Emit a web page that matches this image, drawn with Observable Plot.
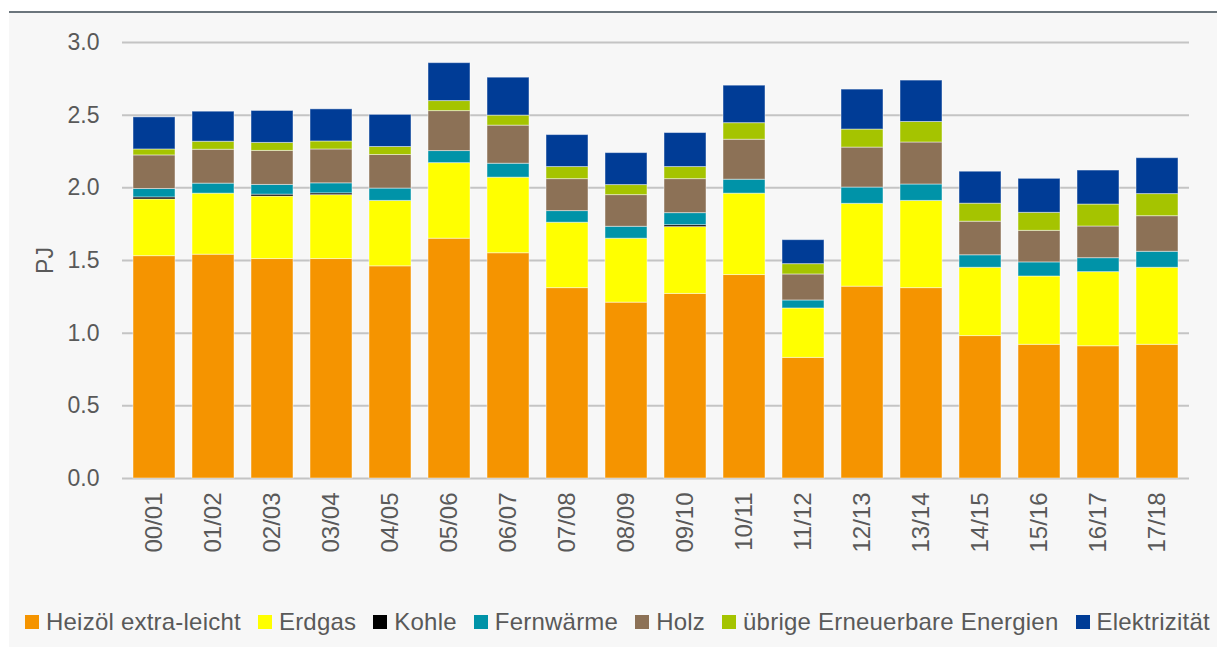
<!DOCTYPE html>
<html>
<head>
<meta charset="utf-8">
<script src="https://cdn.jsdelivr.net/npm/d3@7"></script>
<script src="https://cdn.jsdelivr.net/npm/@observablehq/plot@0.6"></script>
<style>
  html, body { margin: 0; padding: 0; background: #ffffff; }
  #panel {
    position: absolute; left: 9px; top: 11px; width: 1208px; height: 634px;
    background: #f7f7f7; border-top: 2px solid #6b757c;
    font-family: "Liberation Sans", Arial, sans-serif;
  }
  #chart { position: absolute; left: 0; top: 0; }
  #legend {
    position: absolute; left: 16px; top: 595px; display: flex; align-items: center;
    font-size: 24px; letter-spacing: 0.22px; color: #595959; white-space: nowrap;
  }
  .item { display: flex; align-items: center; margin-right: 17px; }
  .sw { width: 14px; height: 14px; margin-right: 7px; }
</style>
</head>
<body>
<div id="panel">
  <div id="chart"></div>
  <div id="legend"></div>
</div>
<script>
const years = ["00/01","01/02","02/03","03/04","04/05","05/06","06/07","07/08","08/09","09/10","10/11","11/12","12/13","13/14","14/15","15/16","16/17","17/18"];
const seriesNames = ["Heizöl extra-leicht","Erdgas","Kohle","Fernwärme","Holz","übrige Erneuerbare Energien","Elektrizität"];
const seriesColors = ["#F59400","#FFFF00","#000000","#0093A8","#8C7156","#A5C400","#003C96"];
const heizoel   = [1.53,1.54,1.51,1.51,1.46,1.65,1.55,1.31,1.21,1.27,1.40,0.83,1.32,1.31,0.98,0.92,0.91,0.92];
const erdgas    = [0.39,0.42,0.43,0.44,0.45,0.52,0.52,0.45,0.44,0.46,0.56,0.34,0.57,0.60,0.47,0.47,0.51,0.53];
const kohle     = [0.014,0,0.013,0.012,0,0,0,0,0,0.013,0,0,0,0,0,0,0,0];
const fernwaerme= [0.058,0.069,0.067,0.069,0.085,0.083,0.096,0.080,0.082,0.083,0.096,0.055,0.112,0.113,0.086,0.097,0.096,0.110];
const holz      = [0.231,0.233,0.234,0.233,0.231,0.275,0.262,0.220,0.218,0.234,0.275,0.179,0.275,0.289,0.231,0.217,0.218,0.245];
const uebrige   = [0.041,0.055,0.055,0.055,0.055,0.069,0.069,0.083,0.069,0.083,0.114,0.071,0.124,0.141,0.124,0.124,0.151,0.152];
const elektrizitaet = [0.221,0.207,0.220,0.221,0.221,0.261,0.261,0.220,0.220,0.234,0.258,0.165,0.275,0.285,0.220,0.234,0.234,0.247];
const yTicks = [0,0.5,1.0,1.5,2.0,2.5,3.0];

const seriesValues = [heizoel, erdgas, kohle, fernwaerme, holz, uebrige, elektrizitaet];
const data = seriesNames.flatMap((name, si) => years.map((year, i) => ({year, type: name, value: seriesValues[si][i]})));

const chart = Plot.plot({
  width: 1208,
  height: 580,
  marginLeft: 113,
  marginRight: 28,
  marginTop: 29,
  marginBottom: 115,
  style: {background: "transparent", fontFamily: "'Liberation Sans', Arial, sans-serif", fontSize: "23px", color: "#595959"},
  x: {domain: years, paddingInner: 0.29, paddingOuter: 0.18, label: null},
  y: {domain: [0, 3], label: null},
  color: {domain: seriesNames, range: seriesColors},
  marks: [
    Plot.ruleY(yTicks, {stroke: "#c4c4c4", strokeWidth: 2}),
    Plot.barY(data, {x: "year", y: "value", fill: "type", stroke: "#ffffff", strokeOpacity: 0.45, strokeWidth: 1}),
    Plot.axisX({tickSize: 0, tickRotate: -90, tickPadding: 14, fontSize: 24, label: null}),
    Plot.axisY({ticks: yTicks, tickFormat: d => d.toFixed(1), tickSize: 0, tickPadding: 23, fontSize: 23,
                label: "PJ", labelAnchor: "center", labelArrow: "none", labelOffset: 86})
  ]
});
document.getElementById("chart").appendChild(chart);

const legend = document.getElementById("legend");
seriesNames.forEach((name, i) => {
  const item = document.createElement("div");
  item.className = "item";
  const sw = document.createElement("div");
  sw.className = "sw";
  sw.style.background = seriesColors[i];
  const label = document.createElement("span");
  label.textContent = name;
  item.appendChild(sw);
  item.appendChild(label);
  legend.appendChild(item);
});
</script>
</body>
</html>
